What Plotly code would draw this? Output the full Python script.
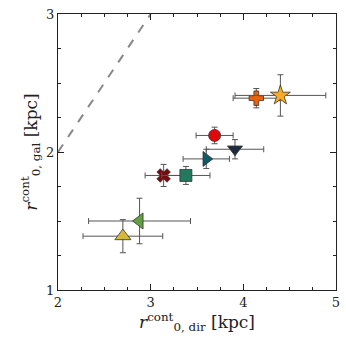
import plotly.graph_objects as go

# r0 (direct) vs r0 (galaxy), kpc
x_dir = [4.14, 4.40, 3.69, 3.91, 3.60, 3.14, 3.38, 2.88, 2.70]
x_err = [0.25, 0.49, 0.20, 0.31, 0.25, 0.20, 0.26, 0.55, 0.43]
y_gal = [2.39, 2.41, 2.12, 2.02, 1.95, 1.83, 1.83, 1.50, 1.39]
y_err = [0.07, 0.15, 0.06, 0.07, 0.07, 0.08, 0.065, 0.165, 0.12]
symbols = ["cross", "star", "circle", "triangle-down", "triangle-right",
           "x", "square", "triangle-left", "triangle-up"]
colors = ["#e8630c", "#fdaa1c", "#e00808", "#1c2b3e", "#0e5a66",
          "#7a0a0e", "#21795e", "#62a043", "#d8b838"]
sizes = [12, 15, 12, 13, 13, 12, 12, 14, 14]

one_to_one = [2, 3]

fig = go.Figure()
fig.add_trace(go.Scatter(x=one_to_one, y=one_to_one, mode="lines",
                         line=dict(color="#888888", width=2, dash="dash"),
                         showlegend=False))
for i in range(len(x_dir)):
    fig.add_trace(go.Scatter(
        x=[x_dir[i]], y=[y_gal[i]], mode="markers",
        marker=dict(symbol=symbols[i], color=colors[i], size=sizes[i],
                    line=dict(color="#333333", width=0.8)),
        error_x=dict(type="data", array=[x_err[i]], color="#555555",
                     thickness=1, width=3),
        error_y=dict(type="data", array=[y_err[i]], color="#555555",
                     thickness=1, width=3),
        showlegend=False))

axis_common = dict(showline=True, linecolor="#222222", linewidth=1.2,
                   mirror="allticks", ticks="inside", ticklen=6,
                   tickcolor="#222222", showgrid=False, zeroline=False,
                   automargin=False,
                   tickfont=dict(family="DejaVu Serif", size=13, color="#222222"),
                   minor=dict(dtick=0.25, ticks="inside", ticklen=3,
                              tickcolor="#222222", showgrid=False))

fig.update_xaxes(range=[2, 5], dtick=1, tick0=2,
                 title=dict(text="<i>r</i><sup>cont</sup><sub>0, dir</sub> [kpc]",
                            font=dict(family="DejaVu Serif", size=17, color="#222222"),
                            standoff=6),
                 **axis_common)
fig.update_yaxes(range=[1, 3], dtick=1, tick0=1,
                 title=dict(text="<i>r</i><sup>cont</sup><sub>0, gal</sub> [kpc]",
                            font=dict(family="DejaVu Serif", size=17, color="#222222"),
                            standoff=4),
                 **axis_common)

fig.update_layout(width=346, height=346, plot_bgcolor="white",
                  paper_bgcolor="white",
                  margin=dict(l=58, r=10, t=14, b=56))
fig.write_html("out.html", config={"displayModeBar": False},
               post_script="document.body.style.margin='0';")
